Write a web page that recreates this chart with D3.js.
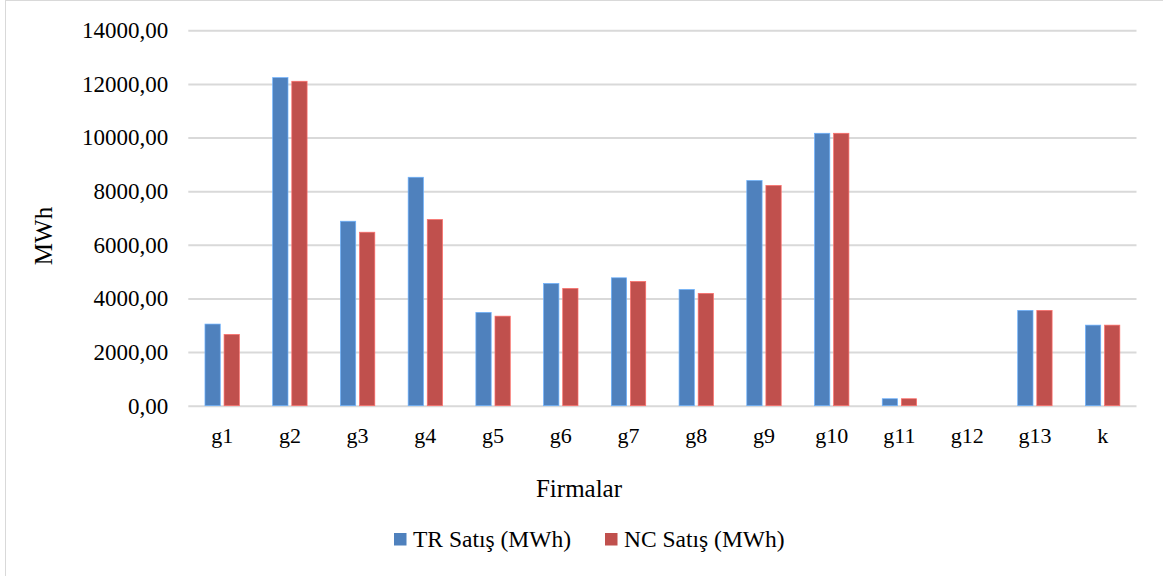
<!DOCTYPE html>
<html>
<head>
<meta charset="utf-8">
<script src="https://cdn.jsdelivr.net/npm/d3@7"></script>
<style>
  html, body { margin: 0; padding: 0; background: #fff; }
  svg { display: block; }
</style>
</head>
<body>
<svg id="chart" width="1163" height="576"></svg>
<script>
// Firm names and monthly sales per firm (MWh)
const categories = ["g1", "g2", "g3", "g4", "g5", "g6", "g7", "g8", "g9", "g10", "g11", "g12", "g13", "k"];
const trSatis = [3045, 12235, 6880, 8520, 3480, 4560, 4770, 4335, 8400, 10160, 260, 0, 3555, 3005];
const ncSatis = [2660, 12100, 6470, 6945, 3340, 4375, 4635, 4190, 8215, 10160, 260, 0, 3555, 3005];
const seriesNames = ["TR Satış (MWh)", "NC Satış (MWh)"];
const seriesColors = ["#4f81bd", "#c0504d"];
const yTicks = [0, 2000, 4000, 6000, 8000, 10000, 12000, 14000];

const FONT = "Liberation Serif, Tinos, DejaVu Serif, Noto Serif, serif";

const svg = d3.select("#chart").style("font-family", FONT);
const W = 1163, H = 576;
const plot = { left: 188.3, right: 1136.5, top: 30.3, bottom: 405.7 };

// outer chart frame
svg.append("rect")
  .attr("x", 5.5).attr("y", 0.5)
  .attr("width", W + 20).attr("height", H + 20)
  .attr("fill", "#fff").attr("stroke", "#d9d9d9").attr("stroke-width", 1);

const x = d3.scaleBand().domain(categories).range([plot.left, plot.right]).paddingInner(0).paddingOuter(0);
const y = d3.scaleLinear().domain([0, 14000]).range([plot.bottom, plot.top]);

const fmt = v => d3.format(".2f")(v).replace(".", ",");

// gridlines + y labels
const yAxis = d3.axisLeft(y).tickValues(yTicks).tickSize(-(plot.right - plot.left)).tickPadding(20).tickFormat(fmt);
const gy = svg.append("g").attr("transform", `translate(${plot.left},0)`).call(yAxis)
  .attr("font-family", FONT).attr("font-size", 23);
gy.select(".domain").remove();
gy.selectAll(".tick line").attr("stroke", "#d9d9d9").attr("stroke-width", 2);
gy.selectAll(".tick text").attr("fill", "#000").style("font-family", FONT);

// x labels
const xAxis = d3.axisBottom(x).tickSize(0).tickPadding(22);
const gx = svg.append("g").attr("transform", `translate(0,${plot.bottom})`).call(xAxis)
  .attr("font-family", FONT).attr("font-size", 22);
gx.select(".domain").remove();
gx.selectAll(".tick text").attr("fill", "#000").style("font-family", FONT);

// bars
const barW = 15.3, gap = 3.8;
const series = [trSatis, ncSatis];
series.forEach((vals, si) => {
  svg.append("g").selectAll("rect")
    .data(categories.map((c, i) => ({ c, v: vals[i] })))
    .join("rect")
    .attr("x", d => x(d.c) + x.bandwidth() / 2 - (barW + gap / 2) + si * (barW + gap))
    .attr("y", d => y(d.v))
    .attr("width", barW)
    .attr("height", d => y(0) - y(d.v))
    .attr("fill", seriesColors[si])
    .attr("stroke", d => d.v > 0 ? d3.color(seriesColors[si]).brighter(0.9) : "none")
    .attr("stroke-width", 0.7);
});

// axis titles
svg.append("text")
  .attr("x", 579).attr("y", 497)
  .attr("text-anchor", "middle").attr("font-size", 25).style("font-family", FONT)
  .text("Firmalar");

svg.append("text")
  .attr("transform", "translate(52,236) rotate(-90)")
  .attr("text-anchor", "middle").attr("font-size", 25).style("font-family", FONT)
  .text("MWh");

// legend
const legendX = [394, 605];
seriesNames.forEach((name, i) => {
  const g = svg.append("g").attr("transform", `translate(${legendX[i]},533)`);
  g.append("rect").attr("width", 12.5).attr("height", 12.5).attr("fill", seriesColors[i]);
  g.append("text").attr("x", 19).attr("y", 13.8).attr("font-size", 23.5).style("font-family", FONT).text(name);
});
</script>
</body>
</html>
